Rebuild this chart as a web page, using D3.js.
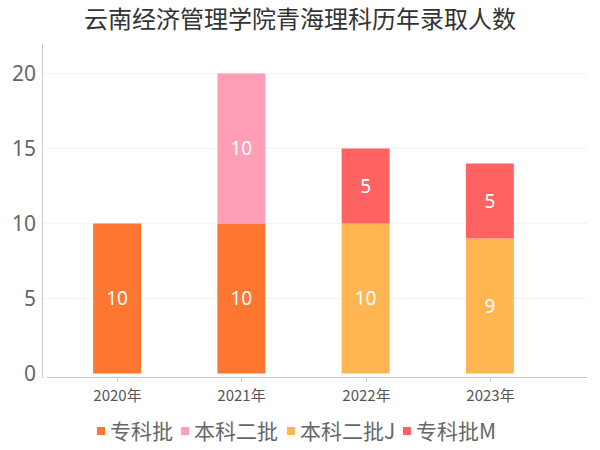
<!DOCTYPE html>
<html><head><meta charset="utf-8">
<script src="https://cdn.jsdelivr.net/npm/d3@7"></script>
<style>body{margin:0;background:#fff}svg{display:block;font-family:"Noto Sans CJK SC","Noto Sans",sans-serif}</style>
</head><body><svg id="c" width="600" height="450"></svg>
<script>
const title = "云南经济管理学院青海理科历年录取人数";
const categories = ["2020年","2021年","2022年","2023年"];
const seriesNames = ["专科批","本科二批","本科二批J","专科批M"];
const s1 = [10,10,0,0];
const s2 = [0,10,0,0];
const s3 = [0,0,10,9];
const s4 = [0,0,5,5];
const yTicks = [0,5,10,15,20];
const colors = ["#FE7730","#FF9EB5","#FFB550","#FF6262"];

const svg = d3.select("#c");
const seriesVals = [s1,s2,s3,s4];
const data = categories.map((c,i)=>{const o={cat:c}; seriesNames.forEach((n,k)=>o[n]=seriesVals[k][i]); return o;});
const stack = d3.stack().keys(seriesNames)(data);

const x = d3.scaleBand().domain(categories).range([55,552]).paddingInner(0.614).paddingOuter(0.307);
const y = d3.scaleLinear().domain([0,20]).range([373.5,73.5]);

// grid
svg.append("g").selectAll("line").data(yTicks.filter(t=>t>0)).join("line")
  .attr("x1",43).attr("x2",587).attr("y1",d=>y(d)).attr("y2",d=>y(d))
  .attr("stroke","#f3f3f3").attr("stroke-width",1);

// y axis line
svg.append("line").attr("x1",42.5).attr("x2",42.5).attr("y1",44).attr("y2",378).attr("stroke","#c8c8c8");
svg.append("g").selectAll("text").data(yTicks).join("text")
  .attr("x",36).attr("y",d=>y(d)).attr("dy","0.36em").attr("text-anchor","end")
  .attr("fill","#666").attr("font-size",21).attr("font-family","Noto Sans, sans-serif").text(d=>d);

// bars
const colorScale = d3.scaleOrdinal().domain(seriesNames).range(colors);
stack.forEach(layer=>{
  const g = svg.append("g");
  layer.forEach((d,i)=>{
    if (d[1]-d[0] <= 0) return;
    g.append("rect").attr("x",x(categories[i])).attr("width",x.bandwidth())
      .attr("y",y(d[1])).attr("height",y(d[0])-y(d[1])).attr("fill",colorScale(layer.key));
    g.append("text").attr("x",x(categories[i])+x.bandwidth()/2).attr("y",(y(d[0])+y(d[1]))/2)
      .attr("dy","0.36em").attr("text-anchor","middle").attr("fill","#fff").attr("font-size",19)
      .attr("font-family","Noto Sans, sans-serif").text(d[1]-d[0]);
  });
});

// x axis
const xa = svg.append("g").attr("transform","translate(0,377.5)");
xa.append("line").attr("x1",47).attr("x2",587).attr("stroke","#c8c8c8");
categories.forEach(c=>{
  const cx = Math.round(x(c)+x.bandwidth()/2)+0.5;
  xa.append("line").attr("x1",cx).attr("x2",cx).attr("y1",0).attr("y2",4).attr("stroke","#c8c8c8");
  xa.append("text").attr("x",cx).attr("y",23).attr("text-anchor","middle").attr("fill","#555")
    .attr("font-size",15).text(c);
});

// title
svg.append("text").attr("x",300).attr("y",28).attr("text-anchor","middle").attr("fill","#333")
  .attr("font-size",24).text(title);

// legend
const legendX = [97,181,287,403];
const lg = svg.append("g");
seriesNames.forEach((n,k)=>{
  lg.append("rect").attr("x",legendX[k]).attr("y",427).attr("width",8).attr("height",8).attr("fill",colors[k]);
  lg.append("text").attr("x",legendX[k]+13).attr("y",431).attr("dy","0.36em").attr("fill","#666")
    .attr("font-size",21).text(n);
});
</script></body></html>
